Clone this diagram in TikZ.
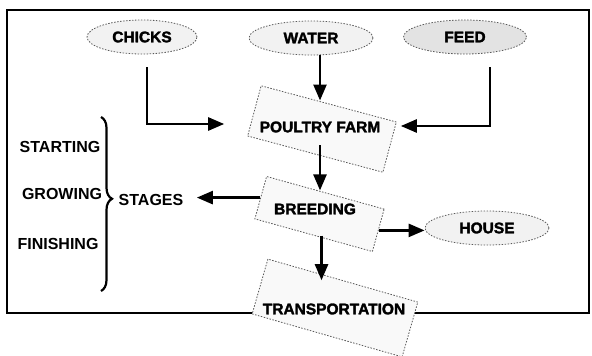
\documentclass[tikz,border=0pt]{standalone}
\usepackage{fontspec}
\setmainfont{Liberation Sans}
\newfontfamily\heavyfont[FakeBold=2]{Liberation Sans Bold}
\usepackage{tikz}
\usetikzlibrary{arrows.meta,calc,decorations.pathreplacing,shapes.geometric}

\tikzset{
  oval/.style={ellipse, draw=black!65, dash pattern=on 1.5pt off 1.5pt, line width=0.8pt, fill=gray!10, inner sep=0pt, minimum width=#1, minimum height=34pt},
  tiltbox/.style={rectangle, draw=black!65, dash pattern=on 1.5pt off 1.5pt, line width=0.8pt, fill=gray!5, inner sep=0pt},
  boxtext/.style={font=\heavyfont\fontsize{15.5}{18}\selectfont},
  sidetext/.style={font=\bfseries\fontsize{16}{18}\selectfont},
  arr/.style={-{Triangle[length=16pt,width=13pt]}, line width=2.5pt}
}

\begin{document}
\begin{tikzpicture}[x=1pt, y=-1pt]

  \useasboundingbox (0,0) rectangle (592,356);

  % Frame
  \draw[line width=1.8pt] (7,10) rectangle (589,313);

  % Inputs
  \node[oval=110pt, boxtext] (chicks) at (142,37) {CHICKS};
  \node[oval=124pt, boxtext] (water) at (311,38) {WATER};
  \node[oval=123pt, boxtext, fill=gray!22] (feed) at (465,37) {FEED};

  % Tilted boxes
  \node[tiltbox, rotate=-15, minimum width=140pt, minimum height=52pt] (farmbox) at (322,129) {};
  \node[boxtext] (farm) at (320,127) {POULTRY FARM};

  \node[tiltbox, rotate=-15.5, minimum width=122pt, minimum height=44pt] (breedbox) at (319.5,214) {};
  \node[boxtext] (breed) at (315,209) {BREEDING};

  \node[tiltbox, rotate=-16, minimum width=156pt, minimum height=57pt] (transbox) at (335,308) {};
  \node[boxtext] (trans) at (334,309) {TRANSPORTATION};

  \node[oval=124pt, boxtext] (house) at (487,228) {HOUSE};

  % Stages
  \node[sidetext] (start) at (60,147) {STARTING};
  \node[sidetext] (grow) at (62,194) {GROWING};
  \node[sidetext] (finish) at (58,244) {FINISHING};
  \node[sidetext] (stages) at (151,200) {STAGES};
  \draw[decorate, decoration={brace, amplitude=11pt, aspect=0.47}, line width=2.2pt] (101,117) -- (101,291);

  % Arrows
  \draw[arr] (water.south -| farm) -- ($(farm |- farmbox.north)+(0,-3)$);
  \draw[arr] ($(chicks.south)+(5,13)$) |- ($(farm.west)+(-32,-3)$);
  \draw[arr] ($(feed.south)+(25,13)$) |- ($(farm.east)+(17,-1)$);
  \draw[arr] ($(farm.south)+(0,9)$) -- ($(farm |- breedbox.north)+(0,-2)$);
  \draw[arr] (breedbox.west) -- ($(stages.east |- breedbox.west)+(10,0)$);
  \draw[arr] (breedbox.east) -- (breedbox.east -| house.west);
  \draw[arr] ($(breedbox.south)+(8,0)$) -- ($(breedbox.south |- transbox.north)+(8,0)$);

\end{tikzpicture}
\end{document}
